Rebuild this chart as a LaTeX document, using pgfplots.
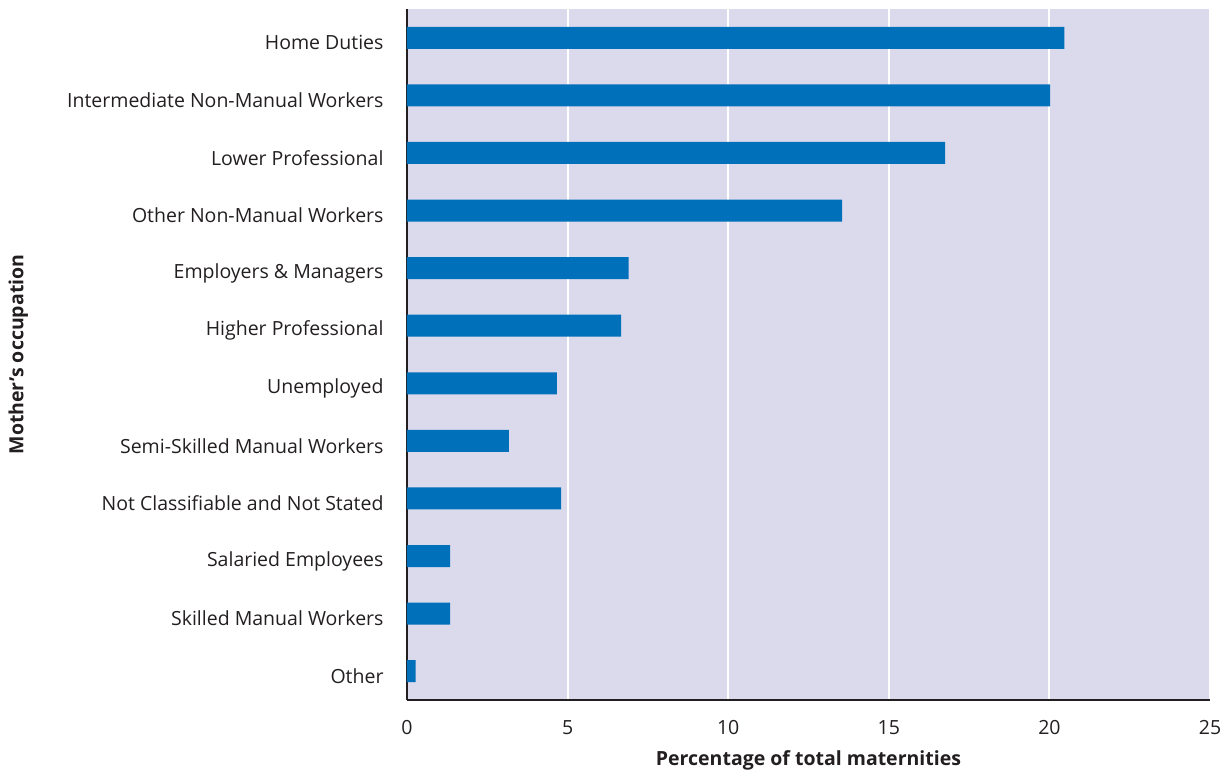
\documentclass[border=0pt]{standalone}
\usepackage{fontspec}
\setmainfont{Open Sans}
\usepackage{pgfplots}
\pgfplotsset{compat=1.18}
\definecolor{barblue}{HTML}{0070BA}
\definecolor{panel}{HTML}{DADAEC}
\definecolor{axisdark}{HTML}{231F20}
\begin{document}
\begin{tikzpicture}
\useasboundingbox (-407pt,-69pt) rectangle (816pt,700pt); % keep the reference's page size
\begin{axis}[
    scale only axis,
    width=803pt, height=691pt,
    xbar,
    bar width=22pt,
    xmin=0, xmax=25,
    ymin=-0.5, ymax=11.5,
    y dir=reverse,
    ytick={0,...,11},
    yticklabels={Home Duties,Intermediate Non-Manual Workers,Lower Professional,
        Other Non-Manual Workers,Employers \& Managers,Higher Professional,Unemployed,
        Semi-Skilled Manual Workers,Not Classifiable and Not Stated,Salaried Employees,
        Skilled Manual Workers,Other},
    xtick={0,5,...,25},
    major tick length=0pt,
    axis x line*=bottom,
    axis y line*=left,
    axis line style={axisdark, line width=2.2pt, -},
    axis background/.style={fill=panel},
    xmajorgrids,
    major grid style={white, line width=2pt},
    tick label style={font=\fontsize{19.5}{23}\selectfont, text=axisdark},
    /pgf/number format/assume math mode=true,
    yticklabel style={xshift=-20pt, yshift=-5pt},
    xticklabel style={yshift=-17pt},
    xlabel={\bfseries Percentage of total maternities},
    ylabel={\bfseries Mother's occupation},
    label style={font=\fontsize{19.5}{23}\selectfont, text=axisdark},
    xlabel style={at={(axis description cs:0.5,-0.087)}, anchor=center},
    ylabel style={at={(axis description cs:-0.484,0.5)}, anchor=center},
    ]
\addplot[draw=none, fill=barblue] coordinates {
    (20.47,0) (20.02,1) (16.75,2) (13.55,3) (6.90,4) (6.67,5)
    (4.67,6) (3.17,7) (4.80,8) (1.34,9) (1.34,10) (0.27,11)};
\end{axis}
\end{tikzpicture}
\end{document}
